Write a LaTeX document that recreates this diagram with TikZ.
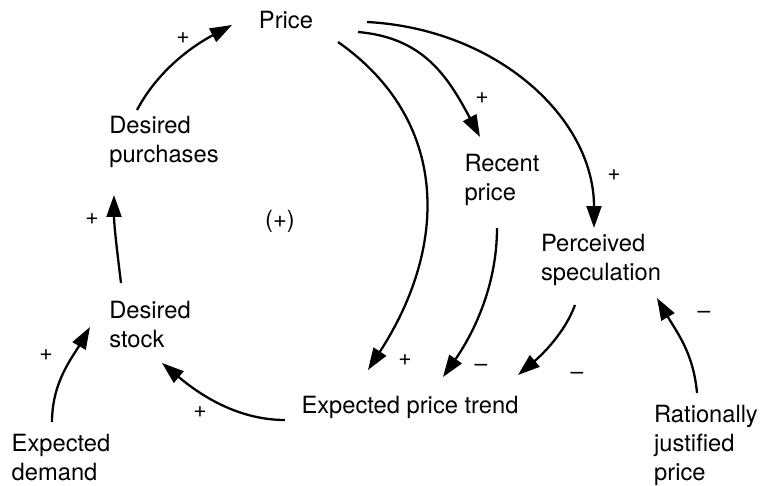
\documentclass[tikz,border=0pt]{standalone}
\usepackage{fontspec}
\setmainfont{TeX Gyre Heros}
\usetikzlibrary{arrows.meta}
\begin{document}
\begin{tikzpicture}[x=0.02cm,y=0.02cm,
  var/.style={font=\fontsize{13.5}{16.5}\selectfont, align=left, inner sep=2pt},
  link/.style={line width=1.3pt, -{Triangle[length=12.5pt,width=8.5pt]}},
  sign/.style={font=\fontsize{13}{15}\selectfont, inner sep=0pt}]
  \useasboundingbox (0,0) rectangle (765,485);
  % Variables
  \node[var] (price) at (286,465) {Price};
  \node[var] (dp) at (164,343) {Desired\\purchases};
  \node[var] (ds) at (150,160) {Desired\\stock};
  \node[var] (ed) at (61,27) {Expected\\demand};
  \node[var] (ept) at (410,78) {Expected price trend};
  \node[var] (rp) at (502,305) {Recent\\price};
  \node[var] (ps) at (601,225) {Perceived\\speculation};
  \node[var] (rjp) at (706,40) {Rationally\\justified\\price};
  \node[var] (loop) at (280,264) {(+)};
  % Links
  \draw[link] ([shift={(-27,32)}]dp.center) .. controls +(62:45) and +(208:45) .. ([shift={(-54,-5)}]price.center);
  \draw[link] ([shift={(-29,42)}]ds.center) .. controls +(97:30) and +(-90:30) .. ([shift={(-50,-53)}]dp.center);
  \draw[link] ([shift={(-9,36)}]ed.center) .. controls +(90:40) and +(240:35) .. ([shift={(-60,-2)}]ds.center);
  \draw[link] ([shift={(-125,-13)}]ept.center) .. controls +(180:50) and +(-40:45) .. ([shift={(12,-38)}]ds.center);
  \draw[link] ([shift={(52,-22)}]price.center) .. controls +(-35:135) and +(57:150) .. ([shift={(-42,37)}]ept.center);
  \draw[link] ([shift={(72,-12)}]price.center) .. controls +(-5:65) and +(118:70) .. ([shift={(-22,43)}]rp.center);
  \draw[link] ([shift={(81,-2)}]price.center) .. controls +(-3:130) and +(90:110) .. ([shift={(-7,32)}]ps.center);
  \draw[link] ([shift={(-5,-48)}]rp.center) .. controls +(-90:60) and +(55:50) .. ([shift={(33,30)}]ept.center);
  \draw[link] ([shift={(-26,-45)}]ps.center) .. controls +(-110:30) and +(40:30) .. ([shift={(108,32)}]ept.center);
  \draw[link] ([shift={(-9,52)}]rjp.center) .. controls +(95:40) and +(-60:40) .. ([shift={(56,-38)}]ps.center);
  % Polarities
  \node[sign] (s1) at (183,447) {+};
  \node[sign] (s2) at (92,266) {+};
  \node[sign] (s3) at (46,130) {+};
  \node[sign] (s4) at (200,73) {+};
  \node[sign] (s5) at (405,125) {+};
  \node[sign] (s6) at (482,387) {+};
  \node[sign] (s7) at (614,310) {+};
  \node[sign] (s8) at (481,117) {--};
  \node[sign] (s9) at (577,109) {--};
  \node[sign] (s10) at (704,170) {--};
\end{tikzpicture}
\end{document}
